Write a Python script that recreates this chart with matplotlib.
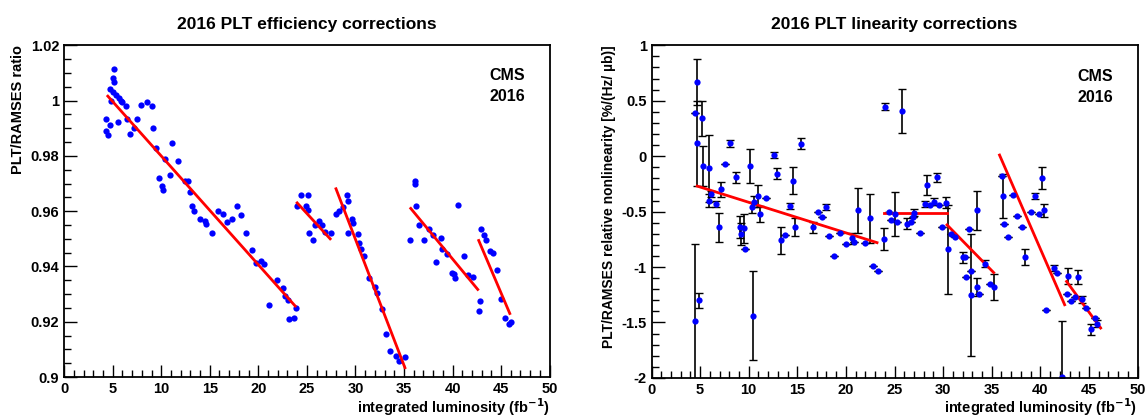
import matplotlib
matplotlib.use("Agg")
import matplotlib.pyplot as plt
import numpy as np
from matplotlib.ticker import MultipleLocator

plt.rcParams["font.family"] = ["Liberation Sans", "DejaVu Sans"]
plt.rcParams["font.weight"] = "bold"

# ── efficiency panel ─────────────────────────────────────────────────────────
eff_x = [4.3, 4.3, 4.5, 4.7, 4.7, 5.0, 5.1, 5.0, 5.1, 4.8, 5.3, 5.5, 5.7, 5.9, 6.0,
         6.4, 6.5, 6.8, 7.2, 7.5, 7.9, 8.5, 9.1, 9.2, 9.5, 9.8, 10.1, 10.2, 10.4,
         10.9, 11.1, 11.7, 12.4, 12.8, 13.0, 13.2, 13.4, 14.0, 14.5, 14.6, 15.2,
         15.8, 16.4, 16.8, 17.3, 17.8, 18.2, 18.7, 19.3, 19.8, 20.3, 20.6, 21.1,
         21.9, 22.5, 22.7, 23.1, 23.2, 23.7, 23.9,
         24.0, 24.4, 25.1, 24.9, 25.1, 25.2, 25.6, 25.8, 26.2, 26.6, 26.9, 27.5,
         28.0, 28.3, 28.7, 29.1, 29.2, 29.2, 29.6, 29.8, 30.3, 30.4, 30.6, 30.9,
         31.4, 32.0, 32.2, 32.7, 33.2, 33.6, 34.2, 34.5, 35.1,
         35.6, 36.1, 36.1, 36.2, 36.6, 37.1, 37.6, 38.0, 38.3, 38.8, 38.9, 39.4,
         39.9, 40.2, 40.3, 40.6, 41.2, 41.6, 42.1, 42.7, 42.8,
         42.9, 43.2, 43.5, 43.9, 44.2, 44.6, 45.0, 45.4, 45.8, 46.0]
eff_y = [0.9935, 0.989, 0.9875, 0.991, 1.0043, 1.003, 1.0113, 1.008, 1.0067, 1.0,
         1.002, 0.9923, 1.001, 1.0, 0.9995, 0.998, 0.9935, 0.988, 0.990, 0.9935,
         0.9983, 0.9995, 0.998, 0.990, 0.983, 0.972, 0.969, 0.9675, 0.979, 0.973,
         0.9847, 0.978, 0.971, 0.971, 0.967, 0.962, 0.960, 0.957, 0.9565, 0.9555,
         0.952, 0.960, 0.959, 0.956, 0.957, 0.962, 0.9585, 0.952, 0.946, 0.9414,
         0.942, 0.941, 0.926, 0.935, 0.9323, 0.9293, 0.9277, 0.921, 0.9215, 0.925,
         0.9617, 0.9657, 0.966, 0.962, 0.9605, 0.952, 0.9497, 0.955, 0.9565, 0.955,
         0.9525, 0.952,
         0.959, 0.960, 0.9615, 0.9657, 0.9637, 0.952, 0.9573, 0.9557, 0.9519,
         0.9486, 0.9464, 0.9438, 0.936, 0.9326, 0.9304, 0.9247, 0.9155, 0.9094,
         0.9075, 0.906, 0.9072,
         0.9495, 0.9708, 0.9697, 0.9617, 0.9551, 0.9495, 0.9534, 0.9513, 0.9416,
         0.9504, 0.9464, 0.9444, 0.9377, 0.9374, 0.936, 0.9624, 0.9437, 0.9368,
         0.9362, 0.9238, 0.9275,
         0.9534, 0.9513, 0.9495, 0.9456, 0.9449, 0.9386, 0.9284, 0.9215, 0.9193, 0.920]
# fit segments: (x0, y0, x1, y1)
eff_fits = [(4.5, 1.0016, 23.8, 0.9257), (24.0, 0.963, 27.4, 0.950),
            (28.0, 0.9681, 35.1, 0.9034), (35.7, 0.961, 42.6, 0.9317),
            (42.7, 0.9494, 45.9, 0.923)]

# ── linearity panel ──────────────────────────────────────────────────────────
lin_x = [4.5, 4.5, 4.7, 4.7, 4.9, 5.2, 5.3, 5.9, 5.9, 6.1, 6.6, 6.9, 7.2, 7.6, 8.1,
         8.7, 9.1, 9.2, 9.5, 9.6, 10.1, 10.3, 10.4, 10.5, 11.0, 11.2, 11.8, 12.6,
         12.9, 13.3, 13.7, 14.2, 14.6, 14.8, 15.4, 16.6, 17.1, 17.5, 18.0, 18.3,
         18.8, 19.4, 20.0, 20.6, 20.8, 21.2, 22.0, 22.5, 22.8, 23.3, 23.9, 24.0,
         24.4, 24.6, 25.0, 25.3, 25.8, 26.3, 26.7, 26.9, 27.0, 27.6, 28.1, 28.3,
         28.6, 29.1, 29.4, 29.6, 29.9, 30.3, 30.5, 30.8, 31.2, 32.0, 32.3, 32.4,
         32.7, 32.9, 32.9, 33.5, 33.7, 33.5, 34.3, 34.8, 35.2, 36.1, 36.2, 36.3,
         36.7, 37.2, 37.6, 38.1, 38.4, 39.0, 39.5, 39.9, 40.2, 40.4, 40.6, 41.4,
         41.7, 42.2, 42.7, 42.8, 43.2, 43.6, 43.9, 44.3, 44.7, 45.2, 45.6, 45.8]
lin_y = [0.39, -1.49, 0.67, 0.115, -1.30, 0.34, -0.09, -0.11, -0.40, -0.34, -0.43,
         -0.64, -0.30, -0.07, 0.115, -0.19, -0.64, -0.70, -0.65, -0.84, -0.09,
         -0.46, -1.44, -0.41, -0.36, -0.52, -0.38, 0.01, -0.16, -0.76, -0.71,
         -0.45, -0.22, -0.64, 0.11, -0.64, -0.50, -0.55, -0.46, -0.72, -0.90,
         -0.69, -0.79, -0.74, -0.77, -0.49, -0.78, -0.56, -0.99, -1.04, -0.75,
         0.445, -0.50, -0.58, -0.52, -0.59, 0.41, -0.61, -0.59, -0.55, -0.51,
         -0.69, -0.43, -0.26, -0.44, -0.41, -0.19, -0.44, -0.64, -0.42, -0.84,
         -0.70, -0.73, -0.91, -0.91, -1.09, -0.66, -1.25, -1.04, -1.18, -1.24,
         -0.49, -0.97, -1.15, -1.18, -0.18, -0.36, -0.61, -0.73, -0.35, -0.54,
         -0.64, -0.91, -0.50, -0.36, -0.52, -0.20, -0.49, -1.39, -1.01, -1.05,
         -1.99, -1.24, -1.08, -1.31, -1.27, -1.09, -1.29, -1.37, -1.56, -1.46, -1.51]
lin_err = [0.0, 0.7, 0.21, 0.38, 0.07, 0.16, 0.18, 0.3, 0.06, 0.03, 0.03, 0.13,
           0.07, 0.0, 0.03, 0.05, 0.1, 0.1, 0.13, 0.0, 0.15, 0.05, 0.4, 0.05, 0.1,
           0.07, 0.0, 0.03, 0.05, 0.12, 0.0, 0.03, 0.12, 0.08, 0.05, 0.05, 0.0,
           0.0, 0.03, 0.0, 0.0, 0.0, 0.0, 0.05, 0.0, 0.2, 0.0, 0.22, 0.0, 0.0,
           0.1, 0.03, 0.0, 0.0, 0.2, 0.0, 0.2, 0.05, 0.0, 0.0, 0.03, 0.0, 0.03,
           0.09, 0.0, 0.03, 0.04, 0.0, 0.0, 0.05, 0.4, 0.0, 0.0, 0.05, 0.0, 0.0,
           0.0, 0.55, 0.0, 0.08, 0.0, 0.18, 0.03, 0.0, 0.12, 0.0, 0.2, 0.0, 0.0,
           0.0, 0.0, 0.0, 0.07, 0.0, 0.03, 0.0, 0.1, 0.06, 0.0, 0.03, 0.0, 0.5,
           0.0, 0.07, 0.0, 0.0, 0.06, 0.03, 0.0, 0.05, 0.0, 0.03]
lin_fits = [(4.7, -0.27, 23.2, -0.78), (23.9, -0.51, 30.4, -0.51),
            (30.4, -0.62, 35.2, -1.05), (35.8, 0.01, 42.5, -1.34),
            (42.7, -1.13, 46.2, -1.55)]


def style(ax):
    ax.set_xlim(0, 50)
    ax.xaxis.set_major_locator(MultipleLocator(5))
    ax.xaxis.set_minor_locator(MultipleLocator(1))
    ax.tick_params(which="both", direction="in", top=False, right=False,
                   labelsize=10.5, width=1)
    ax.tick_params(which="major", length=9)
    ax.tick_params(which="minor", length=5)
    for s in ax.spines.values():
        s.set_linewidth(1.3)
    for lab in ax.get_xticklabels() + ax.get_yticklabels():
        lab.set_fontweight("bold")
    ax.set_xlabel("integrated luminosity (fb$^{\\mathbf{-1}}$)", fontsize=10.5,
                  fontweight="bold", loc="right", labelpad=0)
    ax.text(0.95, 0.93, "CMS\n2016", transform=ax.transAxes, ha="right",
            va="top", fontsize=11.5, fontweight="bold", linespacing=1.5)


fig = plt.figure(figsize=(11.45, 4.19), dpi=100)
ax1 = fig.add_axes([0.056, 0.100, 0.424, 0.792])
ax2 = fig.add_axes([0.569, 0.098, 0.4245, 0.794])

ax1.plot(eff_x, eff_y, "o", color="#0000ff", ms=4.5, mec="none")
for x0, y0, x1, y1 in eff_fits:
    ax1.plot([x0, x1], [y0, y1], color="#ff0000", lw=2)
ax1.set_ylim(0.9, 1.02)
ax1.yaxis.set_major_locator(MultipleLocator(0.02))
ax1.yaxis.set_minor_locator(MultipleLocator(0.005))
ax1.set_yticks([0.9, 0.92, 0.94, 0.96, 0.98, 1.0, 1.02],
               ["0.9", "0.92", "0.94", "0.96", "0.98", "1", "1.02"])
ax1.set_ylabel("PLT/RAMSES ratio", fontsize=10.5, fontweight="bold", loc="top")
ax1.set_title("2016 PLT efficiency corrections", fontsize=12.5,
              fontweight="bold", pad=12)
style(ax1)

ax2.errorbar(lin_x, lin_y, yerr=lin_err, fmt="o", color="#0000ff", ms=4.5,
             mec="none", ecolor="black", elinewidth=1.2, capsize=3)
for x0, y0, x1, y1 in lin_fits:
    ax2.plot([x0, x1], [y0, y1], color="#ff0000", lw=2)
ax2.set_ylim(-2, 1)
ax2.yaxis.set_major_locator(MultipleLocator(0.5))
ax2.yaxis.set_minor_locator(MultipleLocator(0.1))
ax2.set_yticks([-2, -1.5, -1, -0.5, 0, 0.5, 1],
               ["-2", "-1.5", "-1", "-0.5", "0", "0.5", "1"])
ax2.set_ylabel("PLT/RAMSES relative nonlinearity [%/(Hz/ µb)]", fontsize=10,
               fontweight="bold", loc="top")
ax2.set_title("2016 PLT linearity corrections", fontsize=12.5,
              fontweight="bold", pad=12)
style(ax2)

fig.savefig("out.png", dpi=100)
